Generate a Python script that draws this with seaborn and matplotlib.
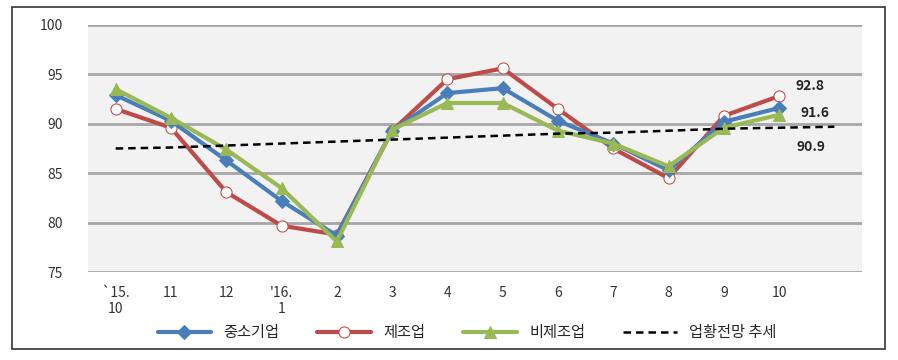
import pandas as pd
import matplotlib.pyplot as plt
import seaborn as sns

months = ["`15.\n10", "11", "12", "'16.\n1", "2", "3", "4", "5", "6", "7", "8", "9", "10", ""]
sme = [92.9, 90.3, 86.3, 82.2, 78.7, 89.3, 93.1, 93.6, 90.3, 88.0, 85.3, 90.2, 91.6]
mfg = [91.5, 89.6, 83.1, 79.7, 78.8, 89.3, 94.5, 95.6, 91.5, 87.5, 84.5, 90.8, 92.8]
nonmfg = [93.5, 90.6, 87.4, 83.5, 78.1, 89.4, 92.1, 92.1, 89.3, 88.0, 85.7, 89.6, 90.9]
trend = [87.5, 87.6, 87.8, 88.0, 88.2, 88.4, 88.6, 88.8, 89.0, 89.1, 89.3, 89.5, 89.6, 89.7]
end_labels = ["92.8", "91.6", "90.9"]

sns.set_style("white")
plt.rcParams['font.family'] = ['Noto Sans CJK KR', 'DejaVu Sans']

fig = plt.figure(figsize=(8.98, 3.6), dpi=100)
ax = fig.add_axes([0.098, 0.244, 0.862, 0.687])
ax.set_facecolor("#f2f2f2")

n = len(sme)
df = pd.DataFrame({
    "x": list(range(n)) * 3,
    "value": sme + mfg + nonmfg,
    "series": ["중소기업"] * n + ["제조업"] * n + ["비제조업"] * n,
})

for y in range(75, 101, 5):
    ax.axhline(y, color="#a6a6a6", lw=2, zorder=0)

styles = {
    "중소기업": dict(color="#4a7ebb", marker="D", mfc="#4a7ebb", mec="#4a7ebb", ms=7),
    "제조업": dict(color="#be4b48", marker="o", mfc="white", mec="#be4b48", ms=8),
    "비제조업": dict(color="#98b954", marker="^", mfc="#98b954", mec="#98b954", ms=9),
}
for name in ["제조업", "중소기업", "비제조업"]:
    st = styles[name]
    sns.lineplot(data=df[df.series == name], x="x", y="value", ax=ax, sort=False,
                 color=st["color"], lw=3, marker=st["marker"], markersize=st["ms"],
                 markerfacecolor=st["mfc"], markeredgecolor=st["mec"], label=name,
                 legend=False)

tdf = pd.DataFrame({"x": range(len(trend)), "value": trend})
sns.lineplot(data=tdf, x="x", y="value", ax=ax, color="black", lw=1.8,
             linestyle=(0, (3, 2)), label="업황전망 추세", legend=False)

# end-point value labels
for txt, yv, xv in zip(end_labels, [93.8, 91.1, 87.7], [12.3, 12.38, 12.32]):
    ax.text(xv, yv, txt, fontsize=10, fontweight="bold", ha="left", va="center")

ax.set_xlim(-0.5, 13.5)
ax.set_ylim(75, 100)
ax.set_yticks(range(75, 101, 5))
ax.set_xticks(range(len(months)))
ax.set_xticklabels(months, fontsize=10, color="#333333")
ax.tick_params(axis="y", labelsize=10, colors="#333333", length=0, pad=18)
ax.tick_params(axis="x", length=0, pad=10)
ax.set_xlabel("")
ax.set_ylabel("")
for s in ax.spines.values():
    s.set_visible(False)

h, l = ax.get_legend_handles_labels()
order = [l.index(k) for k in ["중소기업", "제조업", "비제조업", "업황전망 추세"]]
fig.legend([h[i] for i in order], [l[i] for i in order], loc="center",
           bbox_to_anchor=(0.52, 0.075), ncol=4, frameon=False, fontsize=11,
           handlelength=3.5, columnspacing=2.5)

fig.add_artist(plt.Rectangle((0.013, 0.03), 0.973, 0.95, transform=fig.transFigure,
                             fill=False, edgecolor="#333333", lw=1.2))

fig.savefig("out.png", dpi=100)
